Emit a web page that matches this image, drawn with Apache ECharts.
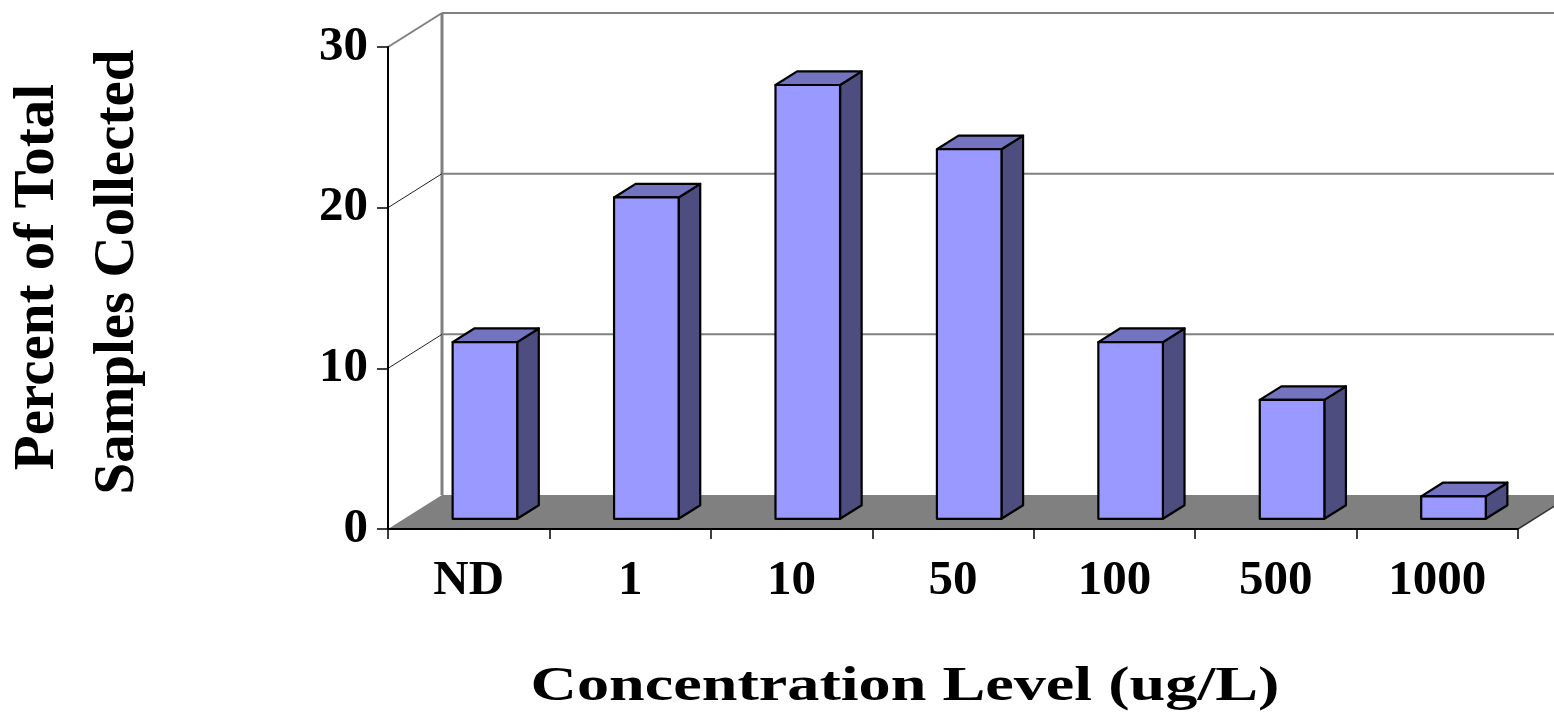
<!DOCTYPE html>
<html>
<head>
<meta charset="utf-8">
<script src="https://cdn.jsdelivr.net/npm/echarts@6/dist/echarts.min.js"></script>
<style>
html,body{margin:0;padding:0;background:#fff;}
#chart{width:1554px;height:713px;}
</style>
</head>
<body>
<div id="chart"></div>
<script>
const categories = ['ND', '1', '10', '50', '100', '500', '1000'];
const percentValues = [11, 20, 27, 23, 11, 7.4, 1.4];
const yTicks = [0, 10, 20, 30];
const xTitle = 'Concentration Level (ug/L)';
const yTitleLines = ['Percent of Total', 'Samples Collected'];

const DEPTH = [54, -34];
const FONT = '"Liberation Serif", "Times New Roman", serif';

const chart = echarts.init(document.getElementById('chart'), null, {renderer: 'canvas'});

function wallItem(params, api) {
  const t = api.value(1);
  const cs = params.coordSys;
  const y = api.coord([0, t])[1];
  const x0 = cs.x, x1 = cs.x + cs.width;
  const children = [];
  if (t === 0) {
    children.push({
      type: 'polygon',
      shape: {points: [[x0, y], [x0 + DEPTH[0], y + DEPTH[1]], [x1 + DEPTH[0], y + DEPTH[1]], [x1, y]]},
      style: {fill: '#808080'}
    });
    children.push({
      type: 'line',
      shape: {x1: x1, y1: y, x2: x1 + DEPTH[0], y2: y + DEPTH[1]},
      style: {stroke: '#333', lineWidth: 1.5}
    });
    const yTop = api.coord([0, yTicks[yTicks.length - 1]])[1];
    children.push({
      type: 'line',
      shape: {x1: x0 + DEPTH[0], y1: y + DEPTH[1], x2: x0 + DEPTH[0], y2: yTop + DEPTH[1]},
      style: {stroke: '#808080', lineWidth: 3}
    });
  } else {
    const isTop = t === yTicks[yTicks.length - 1];
    children.push({
      type: 'line',
      shape: {x1: x0 + DEPTH[0], y1: y + DEPTH[1], x2: x1 + DEPTH[0], y2: y + DEPTH[1]},
      style: {stroke: '#808080', lineWidth: 2}
    });
    children.push({
      type: 'line',
      shape: {x1: x0, y1: y, x2: x0 + DEPTH[0], y2: y + DEPTH[1]},
      style: {stroke: isTop ? '#808080' : '#222', lineWidth: isTop ? 2 : 1}
    });
  }
  return {type: 'group', children: children};
}

function barItem(params, api) {
  const idx = api.value(0);
  const v = api.value(1);
  const base = api.coord([idx, 0]);
  const top = api.coord([idx, v]);
  const band = api.size([1, 0])[0];
  const w = band * 0.4;
  const fx = DEPTH[0] * 0.3, fy = DEPTH[1] * 0.3;
  const dx = DEPTH[0] * 0.4, dy = DEPTH[1] * 0.4;
  const left = base[0] + fx - w / 2, right = left + w;
  const yb = base[1] + fy, yt = top[1] + fy;
  const stroke = {stroke: '#000', lineWidth: 2.2, lineJoin: 'round'};
  return {
    type: 'group',
    children: [
      {type: 'polygon', shape: {points: [[right, yb], [right + dx, yb + dy], [right + dx, yt + dy], [right, yt]]},
        style: Object.assign({fill: '#4D4D80'}, stroke)},
      {type: 'polygon', shape: {points: [[left, yt], [left + dx, yt + dy], [right + dx, yt + dy], [right, yt]]},
        style: Object.assign({fill: '#7373BF'}, stroke)},
      {type: 'rect', shape: {x: left, y: yt, width: w, height: yb - yt},
        style: Object.assign({fill: '#9999FF'}, stroke)}
    ]
  };
}

const option = {
  backgroundColor: '#ffffff',
  animation: false,
  grid: {left: 388, right: 36, top: 47, bottom: 184, containLabel: false},
  xAxis: {
    type: 'category',
    data: categories,
    boundaryGap: true,
    z: 10,
    axisLine: {show: true, lineStyle: {color: '#000', width: 2}},
    axisTick: {show: true, length: 10, interval: 0, lineStyle: {color: '#000', width: 1.5}},
    axisLabel: {interval: 0, margin: 28, color: '#000', fontFamily: FONT, fontWeight: 'bold', fontSize: 49},
    splitLine: {show: false}
  },
  yAxis: {
    type: 'value',
    min: 0, max: 30, interval: 10,
    z: 10,
    axisLine: {show: true, lineStyle: {color: '#000', width: 2}},
    axisTick: {show: true, length: 11, lineStyle: {color: '#000', width: 1.5}},
    axisLabel: {margin: 20, color: '#000', fontFamily: FONT, fontWeight: 'bold', fontSize: 49},
    splitLine: {show: false}
  },
  series: [
    {
      type: 'custom',
      z: 1,
      silent: true,
      renderItem: wallItem,
      data: yTicks.map(t => [0, t]),
      encode: {x: 0, y: 1},
      clip: false
    },
    {
      type: 'custom',
      z: 5,
      renderItem: barItem,
      data: percentValues.map((v, i) => [i, v]),
      encode: {x: 0, y: 1},
      clip: false
    }
  ],
  graphic: [
    {type: 'text', x: 905, y: 687, scaleX: 1.31,
      style: {text: xTitle, align: 'center', verticalAlign: 'middle', fill: '#000',
        font: 'bold 49px ' + FONT}},
    {type: 'text', x: 38, y: 277, rotation: Math.PI / 2,
      style: {text: yTitleLines[0], align: 'center', verticalAlign: 'middle', fill: '#000',
        font: 'bold 57px ' + FONT}},
    {type: 'text', x: 118, y: 272, rotation: Math.PI / 2,
      style: {text: yTitleLines[1], align: 'center', verticalAlign: 'middle', fill: '#000',
        font: 'bold 57px ' + FONT}}
  ]
};
chart.setOption(option);
</script>
</body>
</html>
